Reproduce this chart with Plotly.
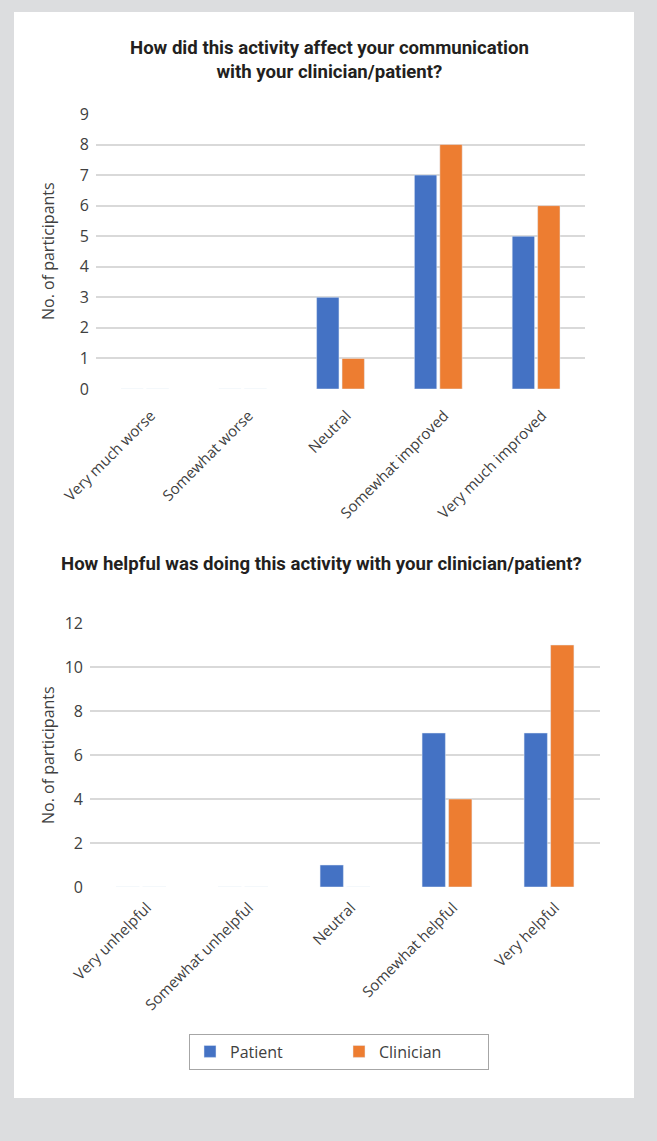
import plotly.graph_objects as go

W, H = 657, 1141

cats1 = ["Very much worse", "Somewhat worse", "Neutral", "Somewhat improved", "Very much improved"]
patient1 = [0, 0, 3, 7, 5]
clinician1 = [0, 0, 1, 8, 6]

cats2 = ["Very unhelpful", "Somewhat unhelpful", "Neutral", "Somewhat helpful", "Very helpful"]
patient2 = [0, 0, 1, 7, 7]
clinician2 = [0, 0, 0, 4, 11]

title1 = "How did this activity affect your communication<br>with your clinician/patient?"
title2 = "How helpful was doing this activity with your clinician/patient?"
ytitle = "No. of participants"

BLUE = "#4472C4"
ORANGE = "#ED7D31"
GRID = "#d9d9d9"
TXT = "#404040"
TICKFONT = "Open Sans, Lato, sans-serif"
TITLEFONT = "Roboto, sans-serif"

def px_x(x):
    return x / W

def px_y(y):
    return (H - y) / H

fig = go.Figure()
fig.add_trace(go.Bar(x=cats1, y=patient1, name="Patient", marker_color=BLUE, xaxis="x", yaxis="y", legendgroup="p"))
fig.add_trace(go.Bar(x=cats1, y=clinician1, name="Clinician", marker_color=ORANGE, xaxis="x", yaxis="y", legendgroup="c"))
fig.add_trace(go.Bar(x=cats2, y=patient2, name="Patient", marker_color=BLUE, xaxis="x2", yaxis="y2", legendgroup="p", showlegend=False))
fig.add_trace(go.Bar(x=cats2, y=clinician2, name="Clinician", marker_color=ORANGE, xaxis="x2", yaxis="y2", legendgroup="c", showlegend=False))

xcommon = dict(type="category", tickangle=-45, showgrid=False, showline=False, zeroline=False, automargin=False,
               ticks="", tickfont=dict(family=TICKFONT, size=15, color=TXT), ticklabelshift=6)
ycommon = dict(showgrid=True, gridcolor=GRID, gridwidth=1.5, zeroline=False, showline=False, ticks="", automargin=False,
               tickfont=dict(family=TICKFONT, size=16, color=TXT), ticklabelstandoff=6)

fig.update_layout(
    width=W, height=H,
    margin=dict(l=0, r=0, t=0, b=0, pad=0, autoexpand=False),
    paper_bgcolor="#dcdddf",
    plot_bgcolor="rgba(0,0,0,0)",
    barmode="group", bargap=0.48, bargroupgap=0.12,
    xaxis=dict(domain=[px_x(96), px_x(585)], anchor="y", ticklabelstandoff=14, **xcommon),
    yaxis=dict(domain=[px_y(389), px_y(114)], anchor="x", range=[0, 9], dtick=1, **ycommon),
    xaxis2=dict(domain=[px_x(90), px_x(600)], anchor="y2", ticklabelstandoff=8, **xcommon),
    yaxis2=dict(domain=[px_y(887), px_y(623)], anchor="x2", range=[0, 12], dtick=2, **ycommon),
    showlegend=True,
    legend=dict(orientation="h", x=px_x(189), xanchor="left", y=px_y(1051.5), yanchor="middle",
                bgcolor="white", bordercolor="#a6a6a6", borderwidth=1,
                font=dict(family=TICKFONT, size=16, color=TXT), entrywidth=104, traceorder="normal"),
    shapes=[dict(type="rect", xref="paper", yref="paper", x0=px_x(14), x1=px_x(634), y0=px_y(1098), y1=px_y(12),
                 fillcolor="white", line=dict(width=0), layer="below")],
    annotations=[
        dict(text=title1, x=px_x(329), y=px_y(60), xref="paper", yref="paper", showarrow=False,
             xanchor="center", yanchor="middle", align="center",
             font=dict(family=TITLEFONT, size=18.6, color="#231f20", weight="bold")),
        dict(text=title2, x=px_x(321), y=px_y(564), xref="paper", yref="paper", showarrow=False,
             xanchor="center", yanchor="middle",
             font=dict(family=TITLEFONT, size=18.6, color="#231f20", weight="bold")),
        dict(text=ytitle, x=px_x(48), y=px_y(251), xref="paper", yref="paper", showarrow=False,
             textangle=-90, xanchor="center", yanchor="middle",
             font=dict(family=TICKFONT, size=16, color=TXT)),
        dict(text=ytitle, x=px_x(48), y=px_y(755), xref="paper", yref="paper", showarrow=False,
             textangle=-90, xanchor="center", yanchor="middle",
             font=dict(family=TICKFONT, size=16, color=TXT)),
    ],
)

fig.write_html("out.html")
